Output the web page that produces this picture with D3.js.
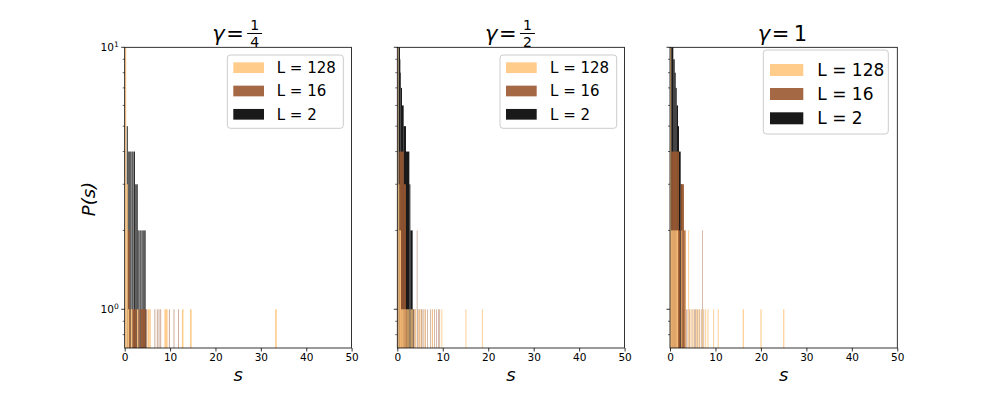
<!DOCTYPE html>
<html><head><meta charset="utf-8">
<script src="https://cdn.jsdelivr.net/npm/d3@7"></script>
<style>body{margin:0;background:#fff}svg{display:block;font-family:"DejaVu Sans",sans-serif}</style>
</head><body><svg id="c" width="997" height="399"></svg>
<script>
// ---------- data: histogram bars [left s, right s, count] ----------
const seriesNames = ["L = 128", "L = 16", "L = 2"];
const seriesColors = ["#ffc77f", "#9b5831", "#000000"];
const drawOrder = [2, 1, 0]; // L=2 drawn first, L=128 on top
const xTicks = [0, 10, 20, 30, 40, 50];
const yMajor = [1, 10];
const yMinor = [0.8, 0.9, 2, 3, 4, 5, 6, 7, 8, 9];
const titles = ["1/4", "1/2", "1"];

const g14_L128 = [[0,0.34,12],[0.34,0.68,3],[0.68,1.0,1],[1.35,1.7,1],[2.7,3.0,1],[5.05,5.4,1],[5.4,5.75,1],[8.75,9.1,1],[9.1,9.45,1],[12.6,12.95,1],[14.4,14.75,1],[33.15,33.5,1]];
const g14_L16 = [[0.68,1.1,2],[1.1,1.3,1],[1.7,2.6,1],[3.0,3.3,1],[3.5,4.6,1],[4.8,4.95,1],[6.6,6.72,1],[7.1,7.22,1],[7.5,7.62,1],[7.9,8.02,1],[9.75,9.87,1],[10.8,10.92,1],[11.75,11.87,1]];
const g14_L2 = [[0.44,0.58,5],[0.6,0.73,5],[0.75,0.9,4],[0.95,1.1,4],[1.15,1.3,4],[1.35,1.5,4],[1.6,1.75,4],[1.8,1.95,4],[2.05,2.25,4],[2.3,2.45,3],[2.5,2.65,3],[2.7,2.86,3],[2.9,3.05,2],[3.1,3.25,2],[3.35,3.5,2],[3.55,3.7,2],[3.8,3.95,2],[4.05,4.2,2],[4.25,4.4,2],[4.45,4.6,2],[4.62,4.75,1]];

const g12_L128 = [[0,0.23,12],[0.23,0.45,3],[0.45,0.8,2],[0.8,1.0,1],[1.05,1.25,1],[1.3,1.5,1],[1.55,1.75,1],[1.8,2.0,1],[2.1,2.3,1],[2.4,2.6,1],[2.7,2.9,1],[3.0,3.2,1],[3.3,3.5,1],[3.9,4.1,1],[4.6,4.8,1],[5.1,5.3,1],[6.0,6.2,1],[7.6,7.8,1],[9.7,9.9,1],[15.0,15.2,1],[18.6,18.8,1]];
const g12_L16 = [[0.45,0.8,4],[0.8,1.4,4],[1.4,1.9,3],[1.9,2.2,1],[4.3,4.4,2],[3.5,3.6,1],[3.8,4.0,1],[4.5,4.6,1],[4.9,5.0,1],[5.3,5.5,1],[5.8,5.9,1],[6.2,6.3,1],[6.6,6.7,1],[7.2,7.3,1],[7.7,7.8,1],[8.1,8.2,1],[8.6,8.7,1],[9.0,9.1,1],[9.3,9.4,1]];
const g12_L2 = [[0.23,0.59,10],[0.59,0.67,9],[0.67,0.81,8],[0.81,1.03,7],[1.03,1.4,6],[1.4,1.91,5],[1.91,2.65,4],[2.65,2.87,3],[2.87,3.38,2],[3.38,3.6,1]];

const g1_L128 = [[0,0.25,12],[0.25,0.5,2],[0.5,0.75,2],[0.75,1.0,2],[1.0,1.25,2],[1.25,1.5,2],[1.5,1.8,2],[2.5,2.7,2],[3.25,3.45,2],[4.0,4.2,2],[4.5,4.7,1],[5.0,5.2,1],[5.75,5.95,1],[6.25,6.45,1],[7.0,7.2,1],[7.75,7.95,1],[8.25,8.45,1],[9.5,9.7,1],[10.5,10.7,1],[16.0,16.25,1],[19.9,20.15,1],[24.9,25.15,1]];
const g1_L16 = [[0.3,1.98,4],[1.8,2.2,2],[2.35,3.08,3],[3.08,3.5,2],[7.05,7.15,2],[3.6,3.7,1],[3.9,4.0,1],[4.3,4.4,1],[4.8,4.9,1],[5.3,5.4,1],[5.6,5.7,1],[6.0,6.1,1],[6.5,6.6,1],[6.8,6.9,1],[7.4,7.5,1]];
const g1_L2 = [[0.25,0.73,10],[0.73,1.03,9],[1.03,1.25,8],[1.25,1.47,7],[1.47,1.76,6],[1.76,1.98,5],[1.98,2.35,4],[2.35,2.72,3],[2.72,2.86,2],[2.86,2.95,1]];

const panelData = [[g14_L128, g14_L16, g14_L2],[g12_L128, g12_L16, g12_L2],[g1_L128, g1_L16, g1_L2]];

// ---------- layout ----------
const svg = d3.select("#c");
const panelsX = [[124.7, 351.6], [397.3, 624.6], [670, 897.3]];
const yTop = 47.3, yBot = 348;
const legendSpec = [
  {x:227.3, y:55, w:116, h:73.3, px:233.3, pw:30.7, ph:10.7, rows:[67.7,91,114.3], tx:276.7, fs:15},
  {x:500, y:55, w:116.7, h:73.3, px:506, pw:30.7, ph:10.7, rows:[67.7,91,114.3], tx:550, fs:15},
  {x:763.3, y:50, w:125, h:84, px:770, pw:33.3, ph:12, rows:[70,94,118.3], tx:817.3, fs:17}
];

panelData.forEach((series, pi) => {
  const [x0, x1] = panelsX[pi];
  const x = d3.scaleLinear().domain([0, 50]).range([x0, x1]);
  const y = d3.scaleLog().domain([0.7115, 10]).range([yBot, yTop]);
  const g = svg.append("g");
  const clipId = "clip" + pi;
  svg.append("clipPath").attr("id", clipId).append("rect")
    .attr("x", x0).attr("y", yTop).attr("width", x1 - x0).attr("height", yBot - yTop);
  const bars = g.append("g").attr("clip-path", `url(#${clipId})`);
  drawOrder.forEach(si => {
    bars.append("g").selectAll("rect").data(series[si]).join("rect")
      .attr("x", d => x(d[0]))
      .attr("width", d => x(d[1]) - x(d[0]))
      .attr("y", d => y(d[2]))
      .attr("height", d => yBot - y(d[2]) + 1)
      .attr("fill", seriesColors[si])
      .attr("fill-opacity", 0.9);
  });
  // axes
  const xa = g.append("g").attr("transform", `translate(0,${yBot})`)
    .call(d3.axisBottom(x).tickValues(xTicks).tickSize(3.5).tickPadding(2.5).tickFormat(d3.format("d")));
  xa.select(".domain").remove();
  xa.selectAll("text").attr("font-size", 10.5).attr("fill", "#000").attr("font-family", "DejaVu Sans");
  xa.selectAll("line").attr("stroke", "#000").attr("stroke-width", 0.8);
  const ya = g.append("g").attr("transform", `translate(${x0},0)`);
  ya.selectAll("line.maj").data(yMajor).join("line").attr("class","maj")
    .attr("x1", -3.5).attr("x2", 0).attr("y1", d => y(d)).attr("y2", d => y(d)).attr("stroke", "#000").attr("stroke-width", 0.8);
  ya.selectAll("line.min").data(yMinor).join("line").attr("class","min")
    .attr("x1", -2).attr("x2", 0).attr("y1", d => y(d)).attr("y2", d => y(d)).attr("stroke", "#000").attr("stroke-width", 0.6);
  if (pi === 0) {
    const lab = ya.selectAll("text.yl").data(yMajor).join("text").attr("class","yl")
      .attr("x", -6).attr("y", d => y(d) + 4).attr("text-anchor", "end").attr("font-size", 10.5);
    lab.append("tspan").text("10");
    lab.append("tspan").attr("dy", -4.5).attr("font-size", 7.5).text(d => Math.round(Math.log10(d)));
  }
  // frame
  g.append("rect").attr("x", x0).attr("y", yTop).attr("width", x1 - x0).attr("height", yBot - yTop)
    .attr("fill", "none").attr("stroke", "#000").attr("stroke-width", 0.8);
  // x label
  g.append("text").attr("x", (x0 + x1) / 2).attr("y", 381).attr("text-anchor", "middle")
    .attr("font-size", 18).attr("font-style", "italic").text("s");
  // legend
  const L = legendSpec[pi];
  const lg = g.append("g");
  lg.append("rect").attr("x", L.x).attr("y", L.y).attr("width", L.w).attr("height", L.h)
    .attr("rx", 3).attr("fill", "#fff").attr("fill-opacity", 0.8).attr("stroke", "#cccccc").attr("stroke-width", 1);
  seriesNames.forEach((nm, si) => {
    lg.append("rect").attr("x", L.px).attr("y", L.rows[si] - L.ph / 2).attr("width", L.pw).attr("height", L.ph)
      .attr("fill", seriesColors[si]).attr("fill-opacity", 0.9);
    lg.append("text").attr("x", L.tx).attr("y", L.rows[si] + L.fs * 0.36).attr("font-size", L.fs).text(nm);
  });
  // title
  const cx = (x0 + x1) / 2;
  const t = g.append("g");
  const parts = titles[pi].split("/");
  t.append("text").attr("x", cx - 26).attr("y", 41).attr("font-size", 21).attr("font-style", "italic").text("γ");
  t.append("text").attr("x", cx - 12).attr("y", 41).attr("font-size", 21).text("=");
  if (parts.length === 2) {
    t.append("text").attr("x", cx + 16.5).attr("y", 30).attr("font-size", 14).attr("text-anchor", "middle").text(parts[0]);
    t.append("line").attr("x1", cx + 9).attr("x2", cx + 24).attr("y1", 33.5).attr("y2", 33.5).attr("stroke", "#000").attr("stroke-width", 1);
    t.append("text").attr("x", cx + 16.5).attr("y", 46.5).attr("font-size", 14).attr("text-anchor", "middle").text(parts[1]);
  } else {
    t.append("text").attr("x", cx + 10).attr("y", 41).attr("font-size", 21).text(parts[0]);
  }
});
// y label
svg.append("text").attr("transform", "translate(95,199) rotate(-90)").attr("text-anchor", "middle")
  .attr("font-size", 18).attr("font-style", "italic").text("P(s)");
</script></body></html>
